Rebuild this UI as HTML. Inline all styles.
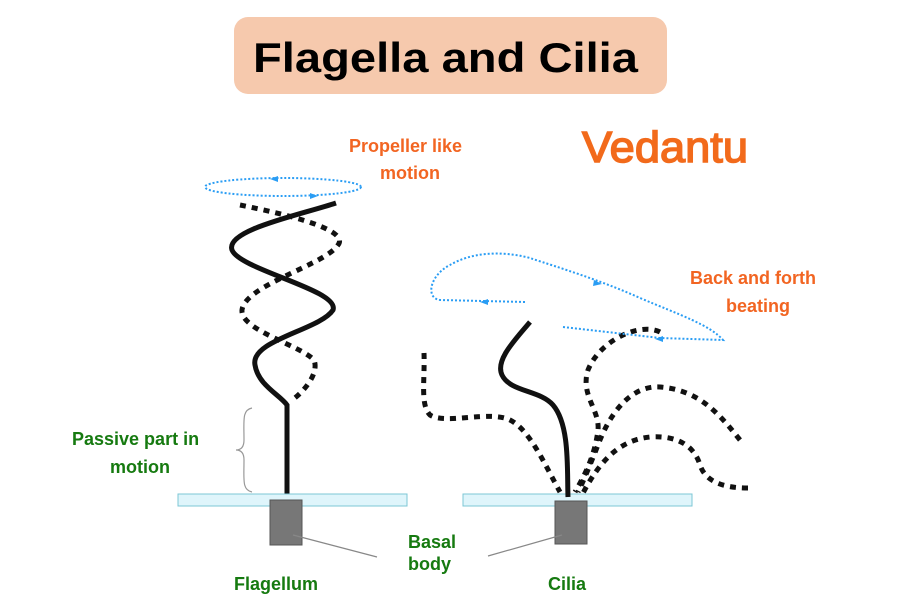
<!DOCTYPE html>
<html><head><meta charset="utf-8"><style>
html,body{margin:0;padding:0;background:#fff;}
svg{display:block;font-family:"Liberation Sans",sans-serif;font-weight:bold;}
</style></head><body>
<svg width="899" height="616" viewBox="0 0 899 616" xmlns="http://www.w3.org/2000/svg">
<rect x="234" y="17" width="433" height="77" rx="14" fill="#f6c9ad"/>
<text x="253" y="72" font-size="42" fill="#000" textLength="385" lengthAdjust="spacingAndGlyphs">Flagella and Cilia</text>
<text x="582" y="162" font-size="44" fill="#f26a1b" font-weight="normal" textLength="166" lengthAdjust="spacingAndGlyphs" stroke="#f26a1b" stroke-width="1.5">Vedantu</text>

<text x="349" y="152" font-size="18" fill="#f26522">Propeller like</text>
<text x="380" y="179" font-size="18" fill="#f26522">motion</text>
<text x="690" y="284" font-size="18" fill="#f26522">Back and forth</text>
<text x="726" y="312" font-size="18" fill="#f26522">beating</text>

<text x="72" y="445" font-size="18" fill="#167a10">Passive part in</text>
<text x="110" y="473" font-size="18" fill="#167a10">motion</text>
<text x="408" y="548" font-size="18" fill="#167a10">Basal</text>
<text x="408" y="570" font-size="18" fill="#167a10">body</text>
<text x="234" y="590" font-size="18" fill="#167a10">Flagellum</text>
<text x="548" y="590" font-size="18" fill="#167a10">Cilia</text>

<!-- flagellum -->
<ellipse cx="283" cy="187" rx="78" ry="9" fill="none" stroke="#2a9df4" stroke-width="2" stroke-dasharray="2 2"/>
<path d="M270 179 l8 -3 v6z" fill="#2a9df4"/>
<path d="M318 196 l-8 -3 v6z" fill="#2a9df4"/>
<path d="M240 205 C290 215 350 230 338 245 C325 265 245 285 242 310 C240 330 300 345 314 360 C320 375 300 395 292 400" fill="none" stroke="#111" stroke-width="5" stroke-dasharray="6 6"/>
<path d="M336 203 C300 215 225 230 232 250 C240 270 340 290 333 310 C320 330 250 340 255 365 C258 385 280 395 287 405 L287 500" fill="none" stroke="#111" stroke-width="5"/>
<path d="M252 408 C242 410 244 420 244 440 C244 448 240 450 236 450 C240 450 244 452 244 460 C244 480 242 490 252 492" fill="none" stroke="#999" stroke-width="1.2"/>
<rect x="178" y="494" width="229" height="12" fill="#dff5fb" stroke="#7cc7d6" stroke-width="1"/>
<rect x="270" y="500" width="32" height="45" fill="#777" stroke="#555"/>
<line x1="293" y1="535" x2="377" y2="557" stroke="#888" stroke-width="1.2"/>

<!-- cilia -->
<rect x="463" y="494" width="229" height="12" fill="#dff5fb" stroke="#7cc7d6" stroke-width="1"/>
<path d="M424 353 C425 380 420 405 430 415 C445 425 490 410 510 420 C530 430 545 465 560 492" fill="none" stroke="#111" stroke-width="5" stroke-dasharray="6 6"/>
<path d="M660 332 C640 322 600 340 588 370 C580 395 600 410 598 430 C595 455 585 475 575 492" fill="none" stroke="#111" stroke-width="5" stroke-dasharray="6 6"/>
<path d="M740 440 C720 415 700 390 660 387 C630 385 610 415 600 440 C592 460 585 478 578 492" fill="none" stroke="#111" stroke-width="5" stroke-dasharray="6 6"/>
<path d="M748 488 C720 488 705 480 700 465 C695 448 680 435 650 437 C620 440 600 460 582 495" fill="none" stroke="#111" stroke-width="5" stroke-dasharray="6 6"/>
<path d="M530 322 C515 340 495 360 502 375 C510 392 540 390 553 405 C570 425 567 470 568 497" fill="none" stroke="#111" stroke-width="5"/>
<rect x="555" y="501" width="32" height="43" fill="#777" stroke="#555"/>
<line x1="562" y1="535" x2="488" y2="556" stroke="#888" stroke-width="1.2"/>
<path d="M525 302 L440 300 C425 298 430 275 450 265 C470 253 500 250 530 258 C560 268 600 280 640 298 C680 315 710 325 723 340 L660 338" fill="none" stroke="#2a9df4" stroke-width="2" stroke-dasharray="2 2"/>
<path d="M563 327 L660 338" fill="none" stroke="#2a9df4" stroke-width="2" stroke-dasharray="2 2"/>
<path d="M480 302 l8 -3 v6z" fill="#2a9df4"/>
<path d="M602 284 l-8 -4 l-1 6z" fill="#2a9df4"/>
<path d="M655 339 l8 -3 v6z" fill="#2a9df4"/>
</svg>
</body></html>
